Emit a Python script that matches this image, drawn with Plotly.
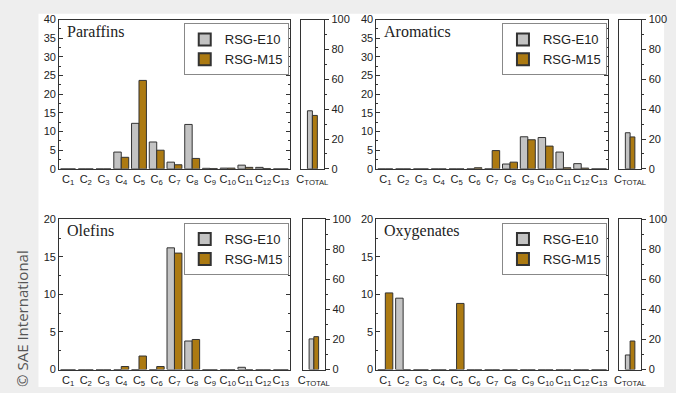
import plotly.graph_objects as go

# ---------------- data ----------------
categories = ["C1", "C2", "C3", "C4", "C5", "C6", "C7", "C8", "C9", "C10", "C11", "C12", "C13"]
tick_labels = ["C<sub>%d</sub>" % i for i in range(1, 14)]
total_category = ["TOTAL"]
total_label = ["C<sub>TOTAL</sub>"]
series_names = ["RSG-E10", "RSG-M15"]

paraffins_e10 = [0, 0, 0, 4.5, 12.2, 7.2, 1.8, 11.9, 0.15, 0.2, 1.0, 0.4, 0]
paraffins_m15 = [0, 0, 0, 3.1, 23.7, 5.0, 1.1, 2.8, 0.1, 0.2, 0.4, 0.1, 0]
paraffins_total = [38.9, 35.8]

aromatics_e10 = [0, 0, 0, 0, 0, 0, 0, 1.3, 8.6, 8.4, 4.5, 1.4, 0]
aromatics_m15 = [0, 0, 0, 0, 0, 0.3, 4.9, 1.8, 7.8, 6.1, 0.3, 0.2, 0]
aromatics_total = [24.2, 21.4]

olefins_e10 = [0, 0, 0, 0, 0, 0, 16.2, 3.8, 0, 0, 0.3, 0, 0]
olefins_m15 = [0, 0, 0, 0.4, 1.8, 0.4, 15.5, 4.0, 0, 0, 0, 0, 0]
olefins_total = [20.4, 21.9]

oxygenates_e10 = [0, 9.5, 0, 0, 0, 0, 0, 0, 0, 0, 0, 0, 0]
oxygenates_m15 = [10.2, 0, 0, 0, 8.8, 0, 0, 0, 0, 0, 0, 0, 0]
oxygenates_total = [9.7, 19.0]

panel_titles = ["Paraffins", "Aromatics", "Olefins", "Oxygenates"]
panel_ymax = [40, 40, 20, 20]

# ---------------- styling ----------------
W, H = 676, 393
E10_COLOR = "#c3c3c3"
M15_COLOR = "#ac7a12"
LINE = "#333333"
TICKFONT = dict(family="Liberation Sans, Arial", size=11, color="#222222")


def fx(p):
    return p / W


def fy(p):
    return 1 - p / H


# pixel boxes: (main_x0, main_x1, tot_x0, tot_x1, y_top, y_bottom)
boxes = [
    (55, 289, 300, 324, 14, 168),
    (377, 612, 623, 646, 14, 168),
    (55, 289, 302, 325, 220, 375),
    (377, 612, 623, 646, 220, 375),
]

panels = [
    (paraffins_e10, paraffins_m15, paraffins_total),
    (aromatics_e10, aromatics_m15, aromatics_total),
    (olefins_e10, olefins_m15, olefins_total),
    (oxygenates_e10, oxygenates_m15, oxygenates_total),
]

fig = go.Figure()
layout = {}
annotations = []

BW_MAIN = 0.42
BW_TOT = 0.21

for i, ((e10, m15, tot), box, title, ymax) in enumerate(zip(panels, boxes, panel_titles, panel_ymax)):
    mx = 2 * i + 1
    tx = 2 * i + 2
    mx_s = "" if mx == 1 else str(mx)
    tx_s = str(tx)
    leg = "legend" if i == 0 else "legend%d" % (i + 1)
    colors = [E10_COLOR, M15_COLOR]
    offsets = [-BW_MAIN, 0]
    for k, (vals, name) in enumerate(zip([e10, m15], series_names)):
        fig.add_trace(go.Bar(
            x=categories, y=vals, name=name,
            xaxis="x" + mx_s, yaxis="y" + mx_s,
            width=BW_MAIN, offset=offsets[k],
            marker=dict(color=colors[k], line=dict(color=LINE, width=1)),
            legend=leg, showlegend=True,
        ))
    for k, name in enumerate(series_names):
        fig.add_trace(go.Bar(
            x=total_category, y=[tot[k]], name=name,
            xaxis="x" + tx_s, yaxis="y" + tx_s,
            width=BW_TOT, offset=[-BW_TOT, 0][k],
            marker=dict(color=colors[k], line=dict(color=LINE, width=1)),
            showlegend=False,
        ))

    mx0, mx1, tx0, tx1, yt, yb = box
    ydom = [fy(yb), fy(yt)]
    layout["xaxis" + mx_s] = dict(
        domain=[fx(mx0), fx(mx1)], anchor="y" + mx_s, type="category",
        range=[-0.5, 12.5], tickvals=categories, ticktext=tick_labels,
        showline=True, mirror=True, linecolor=LINE, linewidth=1,
        ticks="", showgrid=False, tickfont=TICKFONT, zeroline=False,
        tickangle=0,
    )
    layout["yaxis" + mx_s] = dict(
        domain=ydom, anchor="x" + mx_s, range=[0, ymax], dtick=5,
        showline=True, mirror="ticks", linecolor=LINE, linewidth=1,
        ticks="inside", ticklen=4, tickcolor=LINE,
        minor=dict(ticks="inside", ticklen=2, dtick=2.5, tickcolor=LINE),
        showgrid=False, zeroline=False, tickfont=TICKFONT,
    )
    layout["xaxis" + tx_s] = dict(
        domain=[fx(tx0), fx(tx1)], anchor="y" + tx_s, type="category",
        range=[-0.5, 0.5], tickvals=total_category, ticktext=total_label,
        showline=True, mirror=True, linecolor=LINE, linewidth=1,
        ticks="", showgrid=False, tickfont=TICKFONT, zeroline=False,
        tickangle=0,
    )
    layout["yaxis" + tx_s] = dict(
        domain=ydom, anchor="x" + tx_s, range=[0, 100], dtick=20, side="right",
        showline=True, mirror=True, linecolor=LINE, linewidth=1,
        ticks="outside", ticklen=4, tickcolor=LINE,
        minor=dict(ticks="outside", ticklen=2, dtick=10, tickcolor=LINE),
        showgrid=False, zeroline=False, tickfont=TICKFONT,
    )
    layout[leg] = dict(
        x=fx(mx1 - 1), xanchor="right", y=fy(yt + 4), yanchor="top",
        bgcolor="white", bordercolor="#888888", borderwidth=1,
        font=dict(family="Liberation Sans, Arial", size=13, color="#222222"),
        tracegroupgap=0, itemwidth=30, itemsizing="constant",
    )
    annotations.append(dict(
        text=title, x=fx(mx0 + 6), y=fy(yt + 1), xref="paper", yref="paper",
        xanchor="left", yanchor="top", showarrow=False,
        font=dict(family="Liberation Serif, Times New Roman", size=16, color="#222222"),
    ))

annotations.append(dict(
    text="\u00a9 SAE International", x=fx(17), y=fy(322), xref="paper", yref="paper",
    textangle=-90, showarrow=False, xanchor="center", yanchor="middle",
    font=dict(family="Open Sans", size=15, color="#555555"),
))

fig.update_layout(
    width=W, height=H, margin=dict(l=0, r=0, t=0, b=0),
    paper_bgcolor="#eeeeee", plot_bgcolor="white",
    barmode="overlay", annotations=annotations,
    shapes=[dict(type="rect", xref="paper", yref="paper", x0=fx(34), x1=fx(669),
                 y0=0, y1=fy(8), fillcolor="white", line=dict(width=0), layer="below")],
    **layout,
)

fig.write_html("out.html")
